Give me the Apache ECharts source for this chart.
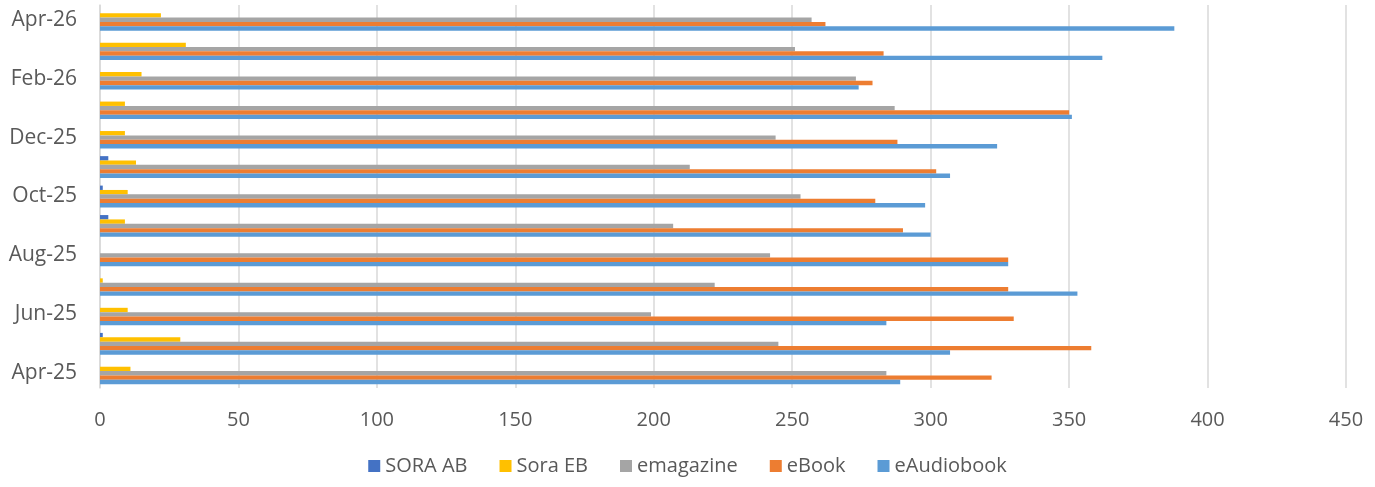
<!DOCTYPE html>
<html>
<head>
<meta charset="utf-8">
<script src="https://cdn.jsdelivr.net/npm/echarts@6/dist/echarts.min.js"></script>
<style>
    html, body { margin: 0; padding: 0; background: #fff; }
    #chart { width: 1375px; height: 487px; }
</style>
</head>
<body>
<div id="chart"></div>
<script>
// months, bottom to top
const months = ['Apr-25', 'May-25', 'Jun-25', 'Jul-25', 'Aug-25', 'Sep-25', 'Oct-25',
    'Nov-25', 'Dec-25', 'Jan-26', 'Feb-26', 'Mar-26', 'Apr-26'];

const soraAB     = [0, 1, 0, 0, 0, 3, 1, 3, 0, 0, 0, 0, 0];
const soraEB     = [11, 29, 10, 1, 0, 9, 10, 13, 9, 9, 15, 31, 22];
const emagazine  = [284, 245, 199, 222, 242, 207, 253, 213, 244, 287, 273, 251, 257];
const eBook      = [322, 358, 330, 328, 328, 290, 280, 302, 288, 350, 279, 283, 262];
const eAudiobook = [289, 307, 284, 353, 328, 300, 298, 307, 324, 351, 274, 362, 388];

const xTicks = { min: 0, max: 450, interval: 50 };

let mycharts = echarts.init(document.getElementById('chart'));
const font = '"Open Sans", sans-serif';

function bar(name, data, color) {
    return {
        name: name,
        type: 'bar',
        data: data,
        barGap: '0%',
        barCategoryGap: '26%',
        itemStyle: { color: color },
        emphasis: { disabled: true }
    };
}

let option = {
    animation: false,
    grid: {
        left: 100,
        right: 29,
        top: 5,
        bottom: 99
    },
    legend: {
        bottom: 6,
        left: 'center',
        icon: 'rect',
        itemWidth: 12,
        itemHeight: 12,
        itemGap: 32,
        data: ['SORA AB', 'Sora EB', 'emagazine', 'eBook', 'eAudiobook'],
        textStyle: { color: '#595959', fontSize: 20, fontFamily: font }
    },
    xAxis: {
        type: 'value',
        min: xTicks.min,
        max: xTicks.max,
        interval: xTicks.interval,
        axisLine: { show: false },
        axisTick: { show: false },
        axisLabel: { color: '#595959', fontSize: 20, fontFamily: font, margin: 22 },
        splitLine: { lineStyle: { color: '#d9d9d9', width: 1.5 } }
    },
    yAxis: {
        type: 'category',
        data: months,
        axisLine: { lineStyle: { color: '#d9d9d9', width: 1.5 } },
        axisTick: { interval: 1, length: 7, lineStyle: { color: '#d9d9d9', width: 1.5 } },
        axisLabel: { interval: 1, color: '#595959', fontSize: 21, fontFamily: font, margin: 23 }
    },
    series: [
        bar('SORA AB', soraAB, '#4472C4'),
        bar('Sora EB', soraEB, '#FFC000'),
        bar('emagazine', emagazine, '#A5A5A5'),
        bar('eBook', eBook, '#ED7D31'),
        bar('eAudiobook', eAudiobook, '#5B9BD5')
    ]
};
mycharts.setOption(option);
window.addEventListener('resize', function () {
    mycharts.resize();
});
</script>
</body>
</html>
